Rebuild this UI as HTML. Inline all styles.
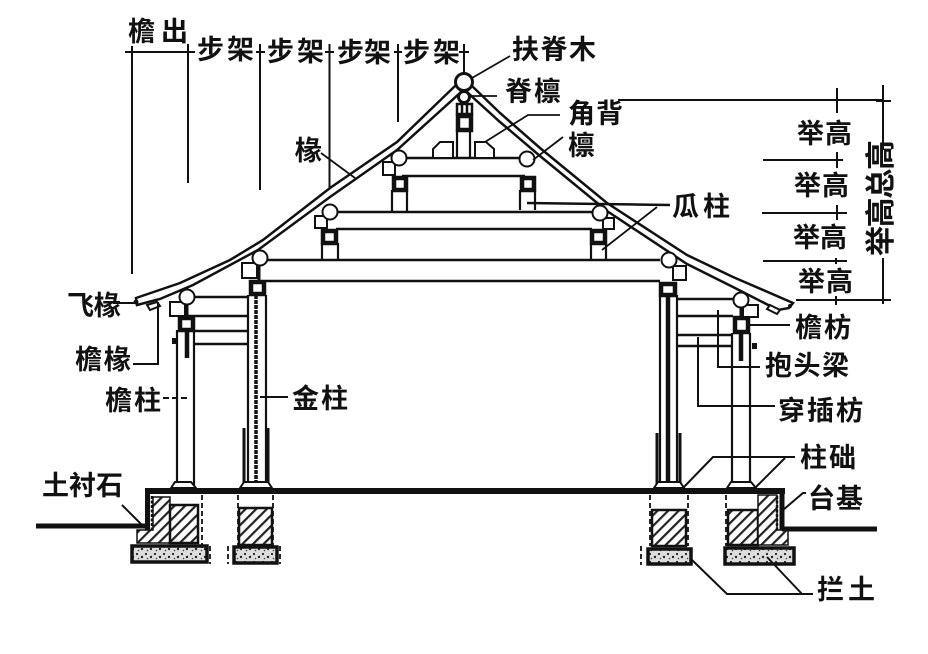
<!DOCTYPE html>
<html><head><meta charset="utf-8"><style>
html,body{margin:0;padding:0;background:#fff}
svg{display:block;filter:blur(.35px)}
text{font-family:"Liberation Sans","Noto Sans CJK SC",sans-serif;font-weight:700;font-size:27px;fill:#111}
</style></head><body>
<svg width="928" height="654" viewBox="0 0 928 654" xmlns="http://www.w3.org/2000/svg">
<defs>
<pattern id="h" width="7.500" height="10" patternUnits="userSpaceOnUse" patternTransform="rotate(45)"><rect width="7.500" height="10" fill="#fff"/><rect width="2.200" height="10" fill="#222"/></pattern>
<pattern id="s" width="9" height="8" patternUnits="userSpaceOnUse"><rect width="9" height="8" fill="#ddd"/><circle cx="2" cy="2" r="1.100" fill="#222"/><circle cx="7" cy="5" r="1.200" fill="#222"/><circle cx="3.500" cy="6.500" r=".8" fill="#444"/></pattern>
</defs>
<rect width="928" height="654" fill="#fff"/>
<g fill="none" stroke="#111" stroke-width="2">
<!-- dimension top -->
<path d="M126 52H190M132 46V274M188 44V183M260 44V190M329.500 44V188M398 44V122M464 44V75M125 52h13M183 52h12M256 52h9M325 52h9M394 52h8M459 52h10"/>
<path stroke-width="1.500" d="M132 46v12M188 46v12M260 46v12"/>
<!-- roof -->
<path stroke-width="2.500" fill="#fff" d="M136 298L180 283L230 260L263 240L330 188L397 142L455 86L464 82L472 86L500 113L540 148L607 203L687 255L733 277L793 303L789 308L778 310L733 287L687 264L607 211L540 156L500 122L468 93H460L397 150L330 197L258 250L193 285L160 299L137 305Z"/>
<path stroke-width="2" fill="#fff" d="M147 305L157 302L160 306L150 310ZM770 305L780 310L777 314L767 309Z"/>
<circle cx="136" cy="302" r="2.500" fill="#111" stroke="none"/><circle cx="790" cy="306" r="2" fill="#111" stroke="none"/>
<!-- beams -->
<path stroke-width="2.500" d="M405 158H520M402 176H525M338 212H592M336 229H592M267 260H660M266 281H660"/>
<!-- posts and stacks -->
<path stroke-width="2.200" d="M392 190V211M407 190V211M520 190V210M535 190V210M322 243V259M338 243V259M591 243V260M606 243V260M457 130V158M470 130V158"/>
<path stroke-width="2" fill="#fff" d="M433 158V149L440 142H453V158ZM475 158V142H486L494 149V158Z"/>
<g fill="#fff" stroke-width="4.500">
<rect x="458" y="116" width="13" height="14"/><rect x="394" y="178" width="12" height="12"/><rect x="522" y="178" width="12" height="12"/><rect x="323" y="231" width="13" height="12"/><rect x="592" y="231" width="13" height="12"/><rect x="251" y="282" width="13" height="12"/><rect x="661" y="284" width="14" height="11"/><rect x="180" y="318" width="13" height="12"/><rect x="735" y="318" width="13" height="14"/>
</g>
<path stroke-width="2.500" d="M457 104H472V114H457ZM462 104V114M467 104V114"/>
<g fill="#fff" stroke-width="2">
<rect x="383" y="162" width="12" height="13"/><rect x="315" y="216" width="12" height="12"/><rect x="603" y="218" width="11" height="11"/><rect x="242" y="263" width="15" height="15"/><rect x="673" y="266" width="13" height="14"/><rect x="170" y="302" width="15" height="14"/><rect x="743" y="305" width="15" height="12"/>
<circle cx="399" cy="158" r="7.500"/><circle cx="527" cy="159" r="7.500"/><circle cx="330" cy="212" r="7.500"/><circle cx="600" cy="213" r="7.500"/><circle cx="260" cy="258" r="7.500"/><circle cx="669" cy="260" r="7.500"/><circle cx="187" cy="297" r="7.500"/><circle cx="741" cy="300" r="7.500"/>
<circle cx="464" cy="82" r="8.500" stroke-width="3"/><circle cx="464" cy="97" r="5.500" stroke-width="3"/>
</g>
<path stroke-width="3" d="M259 265V282M187 304V318M741 307V318"/>
<!-- tie beams -->
<path stroke-width="2.500" d="M195 297H249M186 316H249M195 331H249M195 344H249M676 299H733M676 316H733M676 335H733M676 346H733"/>
<!-- columns -->
<path stroke-width="2.200" d="M177 330V487M194 330V487M248 295V487M266 295V487M660 295V487M677 295V487M732 333V487M750 333V487"/>
<path stroke-width="4.500" d="M187 330V358M741 333V361M668 295V487"/>
<path stroke-width="3.500" stroke-dasharray="4 1" d="M256 295V487"/>
<path stroke-width="3" d="M244 428V485M268 428V485M657 433V485M680 433V485"/>
<rect x="172" y="338" width="5" height="6" fill="#111" stroke="none"/><rect x="752" y="343" width="5" height="6" fill="#111" stroke="none"/>
<path stroke-width="2" fill="#fff" d="M171 488L175 482H191L196 488ZM240 488L244 482H268L272 488ZM654 488L658 482H680L684 488ZM727 488L731 482H751L756 488Z"/>
<!-- foundation -->
<path stroke-width="1.500" fill="url(#h)" d="M153 497H170V543H137V530H153Z"/>
<path stroke-width="2.500" fill="url(#h)" d="M170 505H198V543H170ZM239 508H272V545H239ZM652 510H686V546H652ZM728 510H758V545H728Z"/>
<path stroke-width="1.500" fill="url(#h)" d="M758 495H777V530H788V545H758Z"/>
<g fill="url(#s)" stroke-width="3.500">
<rect x="132" y="546" width="75" height="16"/><rect x="234" y="547" width="43" height="16"/><rect x="648" y="549" width="43" height="15"/><rect x="725" y="548" width="69" height="16"/>
</g>
<path stroke-width="6" d="M145 491H785"/>
<path stroke-width="5" d="M147.500 491V530M782 491V530M36 526H150M782 529H877"/>
<path stroke-width="2.500" stroke-dasharray="3 1.500" d="M152 496V530M777 496V530"/>
<g stroke-dasharray="5 3" stroke-width="1.800">
<path d="M202 495V548M238 495V546M273 495V546M650 495V546M688 495V546M726 495V546M210 546V564M228 546V564M280 546V564M641 546V565"/>
</g>
<!-- leaders -->
<path stroke-width="1.800" d="M472 78L510 56M470 96H497M485 142L528 115H560M533 160L563 137M321 153L355 178M602 250L657 207"/>
<path stroke-width="2.500" d="M527 203L670 205"/>
<path d="M618 100H884M837 88V113M883 85V150M883 258V304M763 160H843M762 213H847M763 261H847M796 300H888M837 152V168M837 205V220M836 258v6M836 296v9M876 101h15M876 300h15"/>
<path d="M750 325H790M718 310V367H760M698 337V406H775M683 488L713 457H795M755 488L785 458M783 510L803 493H806M692 560L727 594H813M767 557L802 594M122 505L145 528M113 303H135M133 364H158V302M260 397H288"/>
<path stroke-dasharray="6 3" d="M163 398H187"/>
</g>
<g>
<text x="128" y="41" textLength="60" lengthAdjust="spacing">檐出</text>
<text x="197" y="59" textLength="57" lengthAdjust="spacing">步架</text>
<text x="267" y="61" textLength="57" lengthAdjust="spacing">步架</text>
<text x="337" y="62" textLength="54" lengthAdjust="spacing">步架</text>
<text x="403" y="62" textLength="57" lengthAdjust="spacing">步架</text>
<text x="512" y="59" textLength="84" lengthAdjust="spacing">扶脊木</text>
<text x="505" y="101" textLength="56" lengthAdjust="spacing">脊檩</text>
<text x="568" y="123" textLength="55" lengthAdjust="spacing">角背</text>
<text x="568" y="155">檩</text>
<text x="295" y="160">椽</text>
<text x="672" y="216" textLength="58" lengthAdjust="spacing">瓜柱</text>
<text x="797" y="143" textLength="55" lengthAdjust="spacing">举高</text>
<text x="794" y="195" textLength="55" lengthAdjust="spacing">举高</text>
<text x="793" y="247" textLength="54" lengthAdjust="spacing">举高</text>
<text x="798" y="291" textLength="55" lengthAdjust="spacing">举高</text>
<text transform="translate(891,256) rotate(-90)" x="0" y="0" font-size="30" textLength="116" lengthAdjust="spacing" style="font-size:30px">举高总高</text>
<text x="67" y="315" textLength="54" lengthAdjust="spacing">飞椽</text>
<text x="75" y="369" textLength="56" lengthAdjust="spacing">檐椽</text>
<text x="105" y="410" textLength="56" lengthAdjust="spacing">檐柱</text>
<text x="292" y="408" textLength="56" lengthAdjust="spacing">金柱</text>
<text x="795" y="337" textLength="56" lengthAdjust="spacing">檐枋</text>
<text x="765" y="375" textLength="84" lengthAdjust="spacing">抱头梁</text>
<text x="778" y="420" textLength="85" lengthAdjust="spacing">穿插枋</text>
<text x="800" y="467" textLength="56" lengthAdjust="spacing">柱础</text>
<text x="808" y="508" textLength="55" lengthAdjust="spacing">台基</text>
<text x="42" y="495" textLength="81" lengthAdjust="spacing">土衬石</text>
<text x="817" y="599" textLength="58" lengthAdjust="spacing">拦土</text>
</g>
</svg>
</body></html>
